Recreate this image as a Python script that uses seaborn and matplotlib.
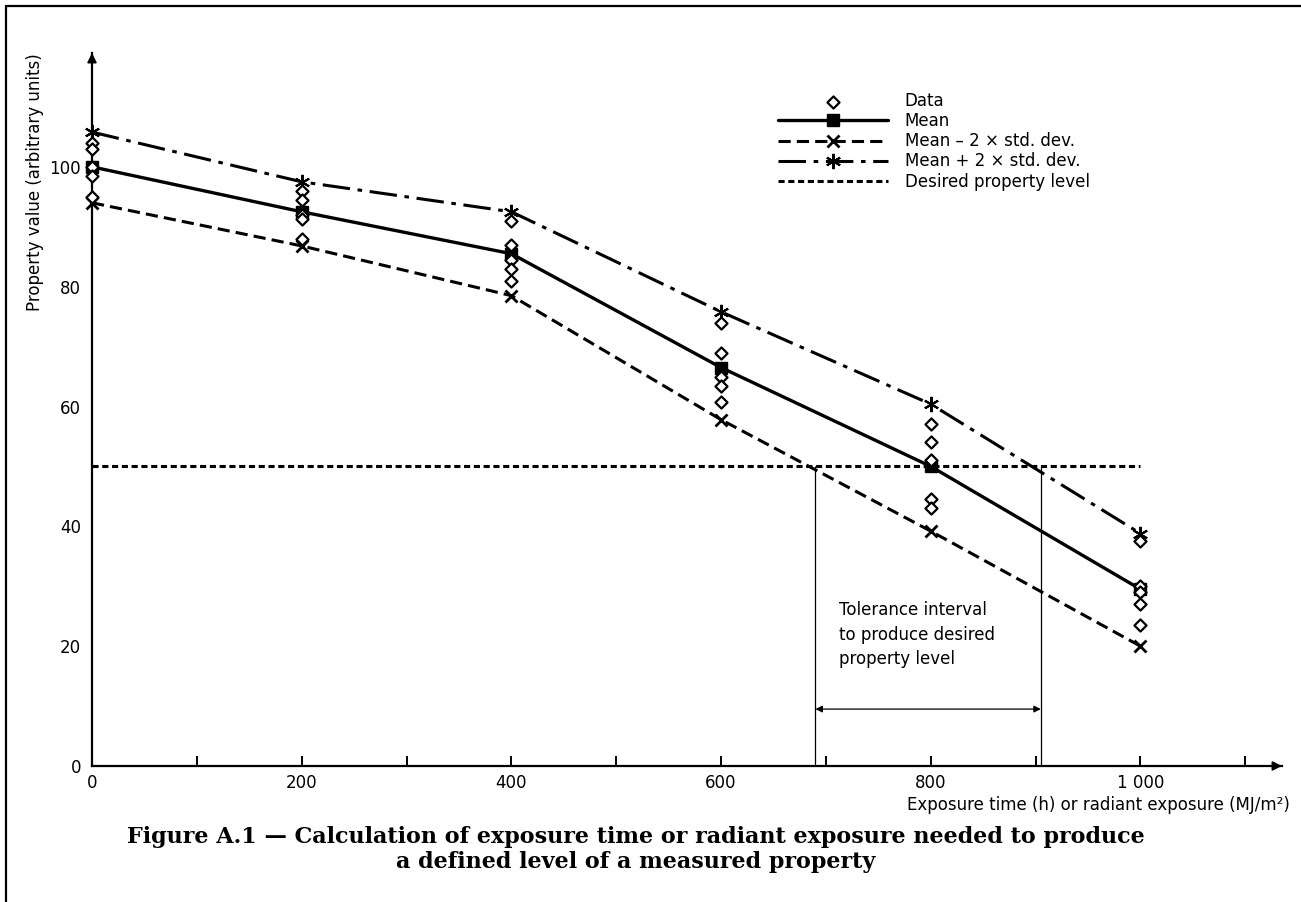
import numpy as np
import pandas as pd
import seaborn as sns
import matplotlib.pyplot as plt
from matplotlib.lines import Line2D

# ---- data ----
x_levels = [0, 200, 400, 600, 800, 1000]
mean_vals = [100, 92.5, 85.5, 66.5, 50, 29.5]
lower_vals = [94, 86.8, 78.5, 57.8, 39.2, 20]
upper_vals = [105.8, 97.5, 92.5, 75.8, 60.4, 38.8]

data_0 = [104, 103, 100, 98.5, 95]
data_200 = [96, 94.5, 92, 91.3, 88]
data_400 = [91, 87, 84.5, 83, 81]
data_600 = [74, 69, 65, 63.5, 60.7]
data_800 = [57, 54, 51, 44.5, 43]
data_1000 = [37.5, 30, 29, 27, 23.5]

desired_x = [0, 1000]
desired_y = [50, 50]
tol_low, tol_high = 690, 905

x_major = [0, 200, 400, 600, 800, 1000]
x_major_labels = ["0", "200", "400", "600", "800", "1 000"]
x_minor = [100, 300, 500, 700, 900, 1100]
y_ticks = [0, 20, 40, 60, 80, 100]

legend_labels = ["Data", "Mean", "Mean \u2013 2 \u00d7 std. dev.",
                 "Mean + 2 \u00d7 std. dev.", "Desired property level"]


def main():
    sns.set_style("white")
    plt.rcParams["font.family"] = ["DejaVu Sans"]
    plt.rcParams["font.size"] = 12
    plt.rcParams["text.color"] = "black"
    plt.rcParams["axes.labelcolor"] = "black"
    plt.rcParams["xtick.color"] = "black"
    plt.rcParams["ytick.color"] = "black"

    groups = [data_0, data_200, data_400, data_600, data_800, data_1000]
    df = pd.DataFrame({
        "x": np.repeat(x_levels, [len(g) for g in groups]),
        "y": np.concatenate(groups),
    })
    lines = pd.DataFrame({"x": x_levels, "mean": mean_vals,
                          "lower": lower_vals, "upper": upper_vals})

    fig = plt.figure(figsize=(13.01, 9.02), dpi=100)
    ax = fig.add_axes([92 / 1301, 136 / 902, 1190 / 1301, 713 / 902])

    # desired level
    sns.lineplot(x=desired_x, y=desired_y, ax=ax, color="black", lw=2.2,
                 linestyle=(0, (2, 1.2)), label=legend_labels[4], zorder=2)
    # tolerance verticals
    ax.vlines([tol_low, tol_high], 0, 50, color="black", lw=0.9, zorder=1)

    # mean +- 2 sd
    sns.lineplot(data=lines, x="x", y="upper", ax=ax, color="black", lw=2.2,
                 linestyle=(0, (9, 2.5, 1.5, 2.5)), marker=(6, 2, 0),
                 markersize=11, mec="black", mew=1.5, clip_on=False,
                 label=legend_labels[3], zorder=3)
    sns.lineplot(data=lines, x="x", y="lower", ax=ax, color="black", lw=2.2,
                 linestyle=(0, (4, 2)), marker="x", markersize=9,
                 mec="black", mew=2, clip_on=False,
                 label=legend_labels[2], zorder=3)
    sns.lineplot(data=lines, x="x", y="mean", ax=ax, color="black", lw=2.4,
                 marker="s", markersize=8, mec="black", mfc="black", mew=1,
                 clip_on=False, label=legend_labels[1], zorder=3)

    # data points
    sns.scatterplot(data=df, x="x", y="y", ax=ax, marker="D", s=38,
                    facecolor="white", edgecolor="black", linewidth=1.6,
                    clip_on=False, label=legend_labels[0], zorder=4)

    # axes
    ax.set_xlim(0, 1135)
    ax.set_ylim(0, 119)
    for side in ["top", "right"]:
        ax.spines[side].set_visible(False)
    for side in ["left", "bottom"]:
        ax.spines[side].set_linewidth(1.6)
        ax.spines[side].set_color("black")

    ax.set_xticks(x_major)
    ax.set_xticklabels(x_major_labels)
    ax.set_xticks(x_minor, minor=True)
    ax.tick_params(axis="x", which="both", direction="in", length=7,
                   width=1.4, pad=6, labelsize=12, bottom=True)
    ax.set_yticks(y_ticks)
    ax.tick_params(axis="y", length=0, pad=8, labelsize=12, left=True)

    # arrows on axes
    ax.annotate("", xy=(1.0, 0), xytext=(0.97, 0), xycoords="axes fraction",
                arrowprops=dict(arrowstyle="-|>", color="black", lw=1.2,
                                mutation_scale=14, shrinkA=0, shrinkB=0))
    ax.annotate("", xy=(0, 1.0), xytext=(0, 0.96), xycoords="axes fraction",
                arrowprops=dict(arrowstyle="-|>", color="black", lw=1.2,
                                mutation_scale=14, shrinkA=0, shrinkB=0))

    ax.set_ylabel("Property value (arbitrary units)", loc="top", fontsize=12)
    ax.yaxis.set_label_coords(-48 / 1190, 1.0)
    ax.set_xlabel("Exposure time (h) or radiant exposure (MJ/m\u00b2)",
                  loc="right", fontsize=12)
    ax.xaxis.set_label_coords(1 + 8 / 1190, -30 / 713)

    # tolerance interval
    ax.annotate("", xy=(tol_low, 9.5), xytext=(tol_high, 9.5),
                arrowprops=dict(arrowstyle="<|-|>", color="black", lw=0.9,
                                mutation_scale=10, shrinkA=0, shrinkB=0))
    ax.text(712, 27.5, "Tolerance interval\nto produce desired\nproperty level",
            ha="left", va="top", fontsize=12, linespacing=1.45)

    # legend
    handles, labels = ax.get_legend_handles_labels()
    order = [labels.index(l) for l in legend_labels]
    ax.legend([handles[i] for i in order], [labels[i] for i in order],
              loc="upper left", bbox_to_anchor=(778 / 1301, 1 - 92 / 902),
              bbox_transform=fig.transFigure, frameon=False, fontsize=12,
              handlelength=6.6, handletextpad=1.0, labelspacing=0.13,
              borderaxespad=0, borderpad=0, markerscale=1)

    # caption
    cap_kw = dict(ha="center", va="center", fontsize=16, fontweight="bold",
                  family="DejaVu Serif", color="black")
    fig.text(636 / 1301, 1 - 837 / 902,
             "Figure A.1 \u2014 Calculation of exposure time or radiant exposure needed to produce",
             **cap_kw)
    fig.text(636 / 1301, 1 - 862 / 902,
             "a defined level of a measured property", **cap_kw)

    # page border (left and top)
    fig.add_artist(Line2D([6 / 1301, 6 / 1301], [0, 1 - 6 / 902],
                          transform=fig.transFigure, color="black", lw=1.6))
    fig.add_artist(Line2D([6 / 1301, 1], [1 - 6 / 902, 1 - 6 / 902],
                          transform=fig.transFigure, color="black", lw=1.6))

    fig.savefig("out.png", dpi=100, facecolor="white")


if __name__ == "__main__":
    main()
